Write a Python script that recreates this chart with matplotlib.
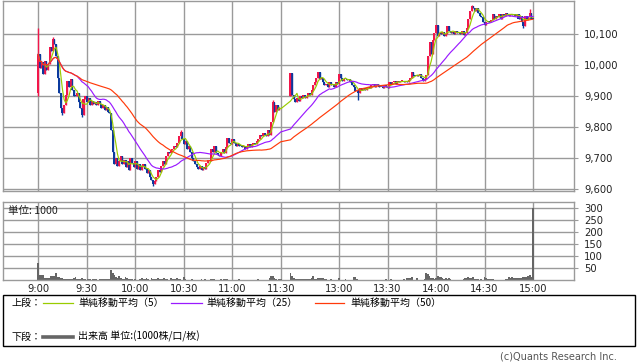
import numpy as np
import pandas as pd
import matplotlib
matplotlib.use("Agg")
import matplotlib.pyplot as plt
from matplotlib.ticker import FuncFormatter
from matplotlib.patches import Rectangle
from matplotlib.lines import Line2D


# 1-minute closes, morning session 9:00-11:30 (bar index 0..150)
am_closes = [
    10035, 9990, 10010, 9970, 10015, 9985, 10005, 10060, 10045, 10085,
    10070, 10030, 9960, 9910, 9860, 9845, 9870, 9905, 9950, 9930,
    9955, 9920, 9900, 9900, 9910, 9880, 9860, 9840, 9890, 9900,
    9880, 9895, 9870, 9885, 9875, 9880, 9870, 9885, 9875, 9860,
    9870, 9855, 9865, 9850, 9845, 9790, 9720, 9680, 9700, 9675,
    9690, 9705, 9680, 9695, 9670, 9690, 9660, 9700, 9685, 9670,
    9690, 9665, 9680, 9660, 9675, 9680, 9665, 9650, 9660, 9640,
    9630, 9615, 9625, 9640, 9660, 9655, 9675, 9690, 9680, 9705,
    9720, 9715, 9725, 9730, 9740, 9735, 9750, 9770, 9785, 9760,
    9745, 9755, 9730, 9740, 9720, 9700, 9690, 9680, 9670, 9665,
    9675, 9660, 9670, 9665, 9685, 9695, 9690, 9730, 9720, 9740,
    9715, 9710, 9705, 9720, 9730, 9715, 9735, 9765, 9750, 9745,
    9760, 9750, 9740, 9745, 9740, 9740, 9735, 9740, 9730, 9740,
    9745, 9735, 9745, 9750, 9745, 9755, 9760, 9775, 9770, 9780,
    9775, 9770, 9790, 9775, 9815, 9880, 9850, 9870, 9855, 9860,
    9860,
]
am_open = 9910

# afternoon session 12:30-15:00 (bar index 156..306)
pm_closes = [
    9975, 9905, 9890, 9880, 9895, 9885, 9900, 9895, 9905, 9895,
    9900, 9910, 9905, 9920, 9935, 9945, 9960, 9978, 9955, 9960,
    9945, 9935, 9940, 9930, 9945, 9935, 9940, 9930, 9945, 9940,
    9972, 9960, 9950, 9955, 9955, 9952, 9955, 9945, 9935, 9930,
    9915, 9920, 9910, 9925, 9920, 9925, 9920, 9925, 9930, 9925,
    9935, 9940, 9930, 9938, 9935, 9930, 9930, 9925, 9935, 9930,
    9925, 9945, 9940, 9945, 9948, 9940, 9950, 9945, 9948, 9950,
    9945, 9950, 9945, 9952, 9960, 9978, 9965, 9965, 9968, 9965,
    9970, 9960, 9950, 9955, 9968, 10030, 10075, 10035, 10080, 10105,
    10130, 10095, 10105, 10100, 10108, 10095, 10100, 10125, 10110, 10105,
    10108, 10100, 10110, 10105, 10108, 10100, 10110, 10098, 10105, 10120,
    10150, 10175, 10190, 10185, 10175, 10185, 10170, 10160, 10155, 10140,
    10130, 10140, 10140, 10140, 10145, 10165, 10148, 10160, 10155, 10165,
    10150, 10165, 10160, 10170, 10165, 10160, 10165, 10162, 10165, 10160,
    10165, 10150, 10160, 10140, 10125, 10160, 10150, 10155, 10170, 10150,
    10150,
]
pm_open = 9900

# wick extremes that go past the bodies
extra_highs = {0: 10120, 9: 10092, 88: 9790, 145: 9887, 268: 10195, 304: 10182}
extra_lows = {0: 9900, 15: 9838, 27: 9832, 71: 9610, 198: 9887, 300: 10119}

# volume, unit 1000 shares
am_volume = [
    73, 22, 20, 21, 10, 11, 10, 11, 16, 17,
    17, 31, 14, 15, 8, 9, 7, 6, 5, 7,
    6, 5, 8, 12, 6, 5, 4, 8, 7, 4,
    3, 4, 5, 3, 4, 4, 4, 3, 5, 6,
    4, 5, 6, 4, 7, 42, 30, 20, 12, 8,
    16, 8, 5, 7, 12, 9, 5, 6, 4, 3,
    4, 3, 3, 6, 10, 4, 5, 8, 4, 3,
    9, 6, 4, 5, 10, 7, 6, 5, 8, 4,
    4, 3, 9, 5, 4, 6, 11, 5, 4, 3,
    13, 4, 3, 2, 3, 4, 3, 2, 2, 2,
    2, 4, 3, 6, 2, 2, 2, 5, 4, 6,
    2, 2, 2, 4, 2, 4, 5, 4, 3, 2,
    2, 2, 2, 2, 4, 2, 2, 2, 3, 2,
    2, 2, 3, 2, 2, 2, 4, 3, 2, 2,
    3, 2, 3, 10, 17, 18, 11, 4, 3, 4,
    5,
]
pm_volume = [
    32, 18, 8, 6, 7, 5, 6, 4, 5, 4,
    5, 6, 4, 8, 16, 6, 4, 9, 11, 10,
    8, 5, 4, 3, 3, 4, 2, 2, 3, 2,
    9, 3, 2, 2, 5, 3, 2, 2, 3, 14,
    12, 4, 3, 2, 2, 2, 2, 3, 2, 2,
    2, 3, 2, 2, 2, 3, 2, 2, 2, 5,
    3, 2, 6, 2, 2, 3, 2, 2, 2, 2,
    4, 3, 10, 9, 8, 12, 3, 2, 8, 2,
    3, 2, 2, 4, 31, 24, 18, 8, 9, 6,
    10, 16, 15, 12, 8, 7, 8, 6, 8, 7,
    3, 2, 2, 3, 2, 2, 3, 6, 8, 11,
    12, 10, 11, 12, 5, 4, 6, 3, 4, 3,
    13, 9, 4, 4, 4, 4, 3, 2, 2, 3,
    2, 3, 2, 5, 6, 13, 10, 12, 9, 8,
    10, 9, 11, 9, 12, 14, 12, 19, 20, 15, 300,
]

tick_pos = [0, 30, 60, 90, 120, 150, 186, 216, 246, 276, 306]
tick_labels = ["9:00", "9:30", "10:00", "10:30", "11:00", "11:30",
               "13:00", "13:30", "14:00", "14:30", "15:00"]
price_ticks = [9600, 9700, 9800, 9900, 10000, 10100]
volume_ticks = [50, 100, 150, 200, 250, 300]

ma_periods = [5, 25, 50]
ma_colors = ["#99cc00", "#9a1aff", "#ff3a0a"]
up_color = "#f2164a"
down_color = "#0b3a9e"
grid_color = "#9a9a9a"

jp_font = ["Noto Sans CJK JP", "DejaVu Sans"]

# ---- assemble bars ----
x_am = np.arange(0, len(am_closes))
x_pm = np.arange(156, 156 + len(pm_closes))
x_all = np.concatenate([x_am, x_pm])

closes = np.array(am_closes + pm_closes, dtype=float)
opens = np.concatenate([[am_open], am_closes[:-1], [pm_open], pm_closes[:-1]]).astype(float)
highs = np.maximum(opens, closes)
lows = np.minimum(opens, closes)
pos = {x: i for i, x in enumerate(x_all)}
for k, v in extra_highs.items():
    highs[pos[k]] = max(highs[pos[k]], v)
for k, v in extra_lows.items():
    lows[pos[k]] = min(lows[pos[k]], v)

volume = np.array(am_volume + pm_volume, dtype=float)

colors = np.where(closes > opens, up_color, down_color)
body_bottom = np.minimum(opens, closes)
body_height = np.maximum(np.abs(closes - opens), 3)

mas = [pd.Series(closes).rolling(n, min_periods=1).mean().values for n in ma_periods]

# ---- figure ----
W, H = 638, 362
fig = plt.figure(figsize=(W / 100, H / 100), dpi=100)


def px_axes(x0, y0, x1, y1):
    return fig.add_axes([x0 / W, 1 - y1 / H, (x1 - x0) / W, (y1 - y0) / H])


ax = px_axes(3.3, 0.5, 574.3, 190.5)
axv = px_axes(3.3, 201.7, 574.3, 280.3)

xlim = (-21.6, 331.5)

for a in (ax, axv):
    a.set_xlim(*xlim)
    a.set_xticks(tick_pos)
    a.grid(True, color=grid_color, linewidth=1.0)
    a.set_axisbelow(True)
    for s in a.spines.values():
        s.set_color(grid_color)
        s.set_linewidth(1.0)
    a.yaxis.tick_right()
    a.tick_params(axis="y", length=3, width=0.8, color=grid_color,
                  pad=4, labelsize=7.2, labelcolor="#222222")

# price panel
ax.vlines(x_all, lows, highs, colors=colors, linewidth=1.0)
ax.bar(x_all, body_height, bottom=body_bottom, width=1.25, color=colors, linewidth=0)
for ma, c in zip(mas, ma_colors):
    ax.plot(x_all, ma, color=c, linewidth=0.85)

ax.set_ylim(9595, 10209)
ax.set_yticks(price_ticks)
ax.yaxis.set_major_formatter(FuncFormatter(lambda v, p: f"{v:,.0f}"))
ax.tick_params(axis="x", length=0, labelbottom=False)

# volume panel
axv.bar(x_all, volume, width=1.1, color="#666666", linewidth=0)
axv.set_ylim(0, 325)
axv.set_yticks(volume_ticks)
axv.set_xticklabels(tick_labels)
axv.tick_params(axis="x", length=0, pad=3, labelsize=7.2, labelcolor="#222222")
axv.text(0.008, 0.885, "単位: 1000", transform=axv.transAxes, ha="left", va="center",
         fontsize=7.6, family=jp_font, color="#222222")

# legend box
fig.add_artist(Rectangle((3.3 / W, 1 - 346 / H), (635 - 3.3) / W, (346 - 295.3) / H,
                         transform=fig.transFigure, fill=False,
                         edgecolor="black", linewidth=1.0))


def fx(x):
    return x / W


def fy(y):
    return 1 - y / H


fig.text(fx(11), fy(303.3), "上段：", ha="left", va="center", fontsize=7.2, family=jp_font)
legend_items = [(43, 73, 78, "単純移動平均（5）"),
                (171, 202, 206, "単純移動平均（25）"),
                (315, 344, 350, "単純移動平均（50）")]
for (x0, x1, xt, label), c in zip(legend_items, ma_colors):
    fig.add_artist(Line2D([fx(x0), fx(x1)], [fy(303.3), fy(303.3)],
                          transform=fig.transFigure, color=c, linewidth=0.9))
    fig.text(fx(xt), fy(303.3), label, ha="left", va="center", fontsize=7.2, family=jp_font)

fig.text(fx(11), fy(336.7), "下段：", ha="left", va="center", fontsize=7.2, family=jp_font)
fig.add_artist(Line2D([fx(43), fx(73)], [fy(336.7), fy(336.7)],
                      transform=fig.transFigure, color="#666666", linewidth=2.6))
fig.text(fx(78), fy(336.7), "出来高 単位:(1000株/口/枚)", ha="left", va="center",
         fontsize=7.2, family=jp_font)

fig.text(fx(617), fy(356.5), "(c)Quants Research Inc.", ha="right", va="center",
         fontsize=7, color="#555555")

fig.savefig("out.png", dpi=100)
